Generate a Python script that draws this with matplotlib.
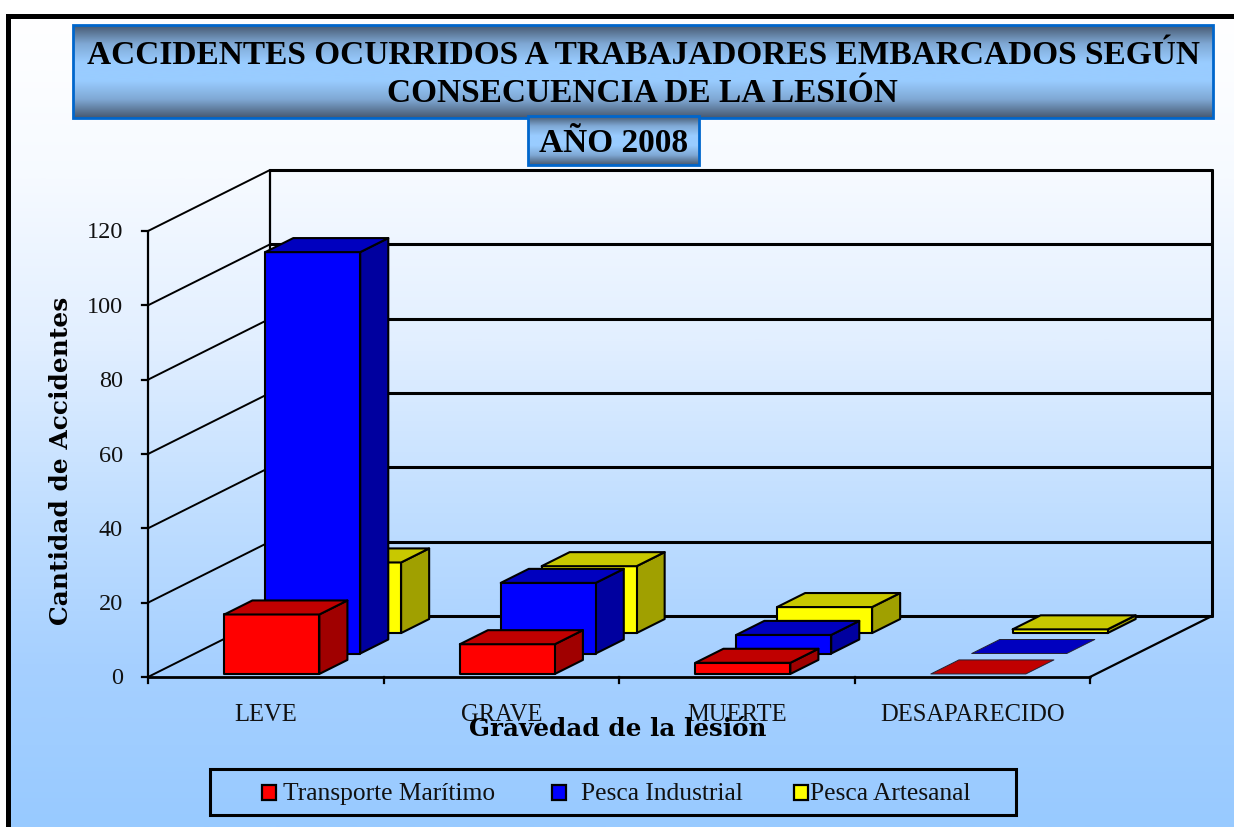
import numpy as np
import matplotlib
matplotlib.use("Agg")
import matplotlib.pyplot as plt
from matplotlib.colors import LinearSegmentedColormap
from matplotlib.patches import Polygon, Rectangle

# datos
categorias = ["LEVE", "GRAVE", "MUERTE", "DESAPARECIDO"]
series = ["Transporte Marítimo", "Pesca Industrial", "Pesca Artesanal"]
transporte = [16, 8, 3, 0]
industrial = [108, 19, 5, 0]
artesanal = [19, 18, 7, 1]
ticks_y = [0, 20, 40, 60, 80, 100, 120]

# geometria del grafico, en pixeles
X0, Y0 = 148, 677
ANCHO_CAT = 235.5
PX_VALOR = 446 / 120
FONDO_X, FONDO_Y = 122, -61
ANCHO_BARRA = 95 / 235.5
INICIO_FILA = [0.05, 0.385, 0.72]
LARGO_FILA = 0.23

COLORES = [("#FF0000", "#C00000", "#A00000"),
           ("#0000FF", "#0000BF", "#00009F"),
           ("#FFFF00", "#C8C800", "#A0A000")]
SERIF = "Liberation Serif"


def punto(cat, valor, prof=0.0):
    # cat en unidades de categoria, prof de 0 (frente) a 1 (fondo)
    return (X0 + cat * ANCHO_CAT + prof * FONDO_X,
            Y0 - valor * PX_VALOR + prof * FONDO_Y)


def linea(ax, a, b, lw=2.0, color="black"):
    ax.plot([a[0], b[0]], [a[1], b[1]], color=color, lw=lw,
            solid_capstyle="round")


def caja_gradiente(ax, x0, y0, x1, y1, lw=2.0):
    cmap = LinearSegmentedColormap.from_list(
        "titulo", ["#46586F", "#7FA8D4", "#99CCFF", "#99CCFF", "#7FA8D4", "#46586F"])
    grad = np.linspace(0, 1, 256).reshape(-1, 1)
    ax.imshow(grad, extent=(x0, x1, y1, y0), cmap=cmap, aspect="auto", zorder=2)
    ax.add_patch(Rectangle((x0, y0), x1 - x0, y1 - y0, fill=False,
                           ec="#0066CC", lw=lw, zorder=2))


def barra(ax, cat, fila, valor):
    frente, arriba, lado = COLORES[fila]
    c0 = cat + (1 - ANCHO_BARRA) / 2
    c1 = c0 + ANCHO_BARRA
    p0 = INICIO_FILA[fila]
    p1 = p0 + LARGO_FILA
    estilo = dict(ec="black", lw=1.5, joinstyle="round", zorder=3)
    if valor > 0:
        ax.add_patch(Polygon([punto(c1, 0, p0), punto(c1, 0, p1),
                              punto(c1, valor, p1), punto(c1, valor, p0)],
                             fc=lado, **estilo))
        ax.add_patch(Polygon([punto(c0, 0, p0), punto(c1, 0, p0),
                              punto(c1, valor, p0), punto(c0, valor, p0)],
                             fc=frente, **estilo))
    ax.add_patch(Polygon([punto(c0, valor, p0), punto(c1, valor, p0),
                          punto(c1, valor, p1), punto(c0, valor, p1)],
                         fc=arriba, ec="black" if valor > 0 else "#222233",
                         lw=1.5 if valor > 0 else 0.7, joinstyle="round", zorder=3))


fig = plt.figure(figsize=(12.34, 8.27), dpi=100, facecolor="white")
ax = fig.add_axes([0, 0, 1, 1])
ax.set_xlim(0, 1234)
ax.set_ylim(827, 0)
ax.axis("off")

# fondo con degradado y marco negro
cmap_fondo = LinearSegmentedColormap.from_list(
    "fondo", ["#FFFFFF", "#F6FAFF", "#E2EFFF", "#C2DFFF", "#A6D0FF", "#98CAFF"])
ax.imshow(np.linspace(0, 1, 512).reshape(-1, 1), extent=(8, 1234, 827, 15),
          cmap=cmap_fondo, aspect="auto", zorder=0)
ax.plot([7.5, 7.5, 1234], [827, 15.5, 15.5], color="black", lw=3.6, zorder=1,
        solid_joinstyle="miter")

# titulos
caja_gradiente(ax, 73, 25, 1213, 118)
caja_gradiente(ax, 528, 116, 699, 165)
ax.text(643.5, 55, "ACCIDENTES OCURRIDOS A TRABAJADORES EMBARCADOS SEGÚN",
        family=SERIF, weight="bold", size=24.05, ha="center", va="center", zorder=4)
ax.text(642, 93, "CONSECUENCIA DE LA LESIÓN",
        family=SERIF, weight="bold", size=24.05, ha="center", va="center", zorder=4)
ax.text(614, 143, "AÑO 2008", family=SERIF, weight="bold", size=24,
        ha="center", va="center", zorder=4)

# paredes y rejilla
n = len(categorias)
for v in ticks_y:
    linea(ax, punto(0, v), punto(0, v, 1), lw=1.4)
    linea(ax, punto(0, v, 1), punto(n, v, 1), lw=2.2)
    ax.plot([X0 - 6, X0], [punto(0, v)[1]] * 2, color="black", lw=1.6)
    ax.text(123, punto(0, v)[1] + 2, str(v), family=SERIF, size=17.5,
            ha="right", va="center", color="#111111")
linea(ax, punto(0, 0), punto(0, 120), lw=1.6)
linea(ax, punto(0, 0, 1), punto(0, 120, 1), lw=1.6)
linea(ax, punto(n, 0, 1), punto(n, 120, 1), lw=2.2)
linea(ax, punto(n, 0), punto(n, 0, 1), lw=1.6)
linea(ax, punto(0, 0), punto(n, 0), lw=2.0)
for i in range(n + 1):
    x = punto(i, 0)[0]
    ax.plot([x, x], [Y0, Y0 + 6], color="black", lw=1.6)

# barras, de atras hacia adelante
valores = [transporte, industrial, artesanal]
for i in range(n):
    for fila in (2, 1, 0):
        barra(ax, i, fila, valores[fila][i])

# etiquetas de ejes
for i, cat in enumerate(categorias):
    ax.text(punto(i + 0.5, 0)[0], 715, cat, family=SERIF, size=17.7,
            ha="center", va="center", color="#111111")
ax.text(618, 729, "Gravedad de la lesión", family="DejaVu Serif", weight="bold",
        size=17.7, ha="center", va="center")
ax.text(61, 461, "Cantidad de Accidentes", family="DejaVu Serif", weight="bold",
        size=17.9, rotation=90, ha="center", va="center")

# leyenda
ax.add_patch(Rectangle((210, 769), 806, 46, fill=False, ec="black", lw=2.2, zorder=4))
pos_leyenda = [(262, 283), (552, 581), (794, 810)]
for (xc, xt), nombre, col in zip(pos_leyenda, series, COLORES):
    ax.add_patch(Rectangle((xc, 785), 14, 15, fc=col[0], ec="black", lw=1.6, zorder=4))
    ax.text(xt, 794, nombre, family=SERIF, size=18.4, ha="left", va="center",
            color="#111111", zorder=4)

fig.savefig("out.png", dpi=100)
